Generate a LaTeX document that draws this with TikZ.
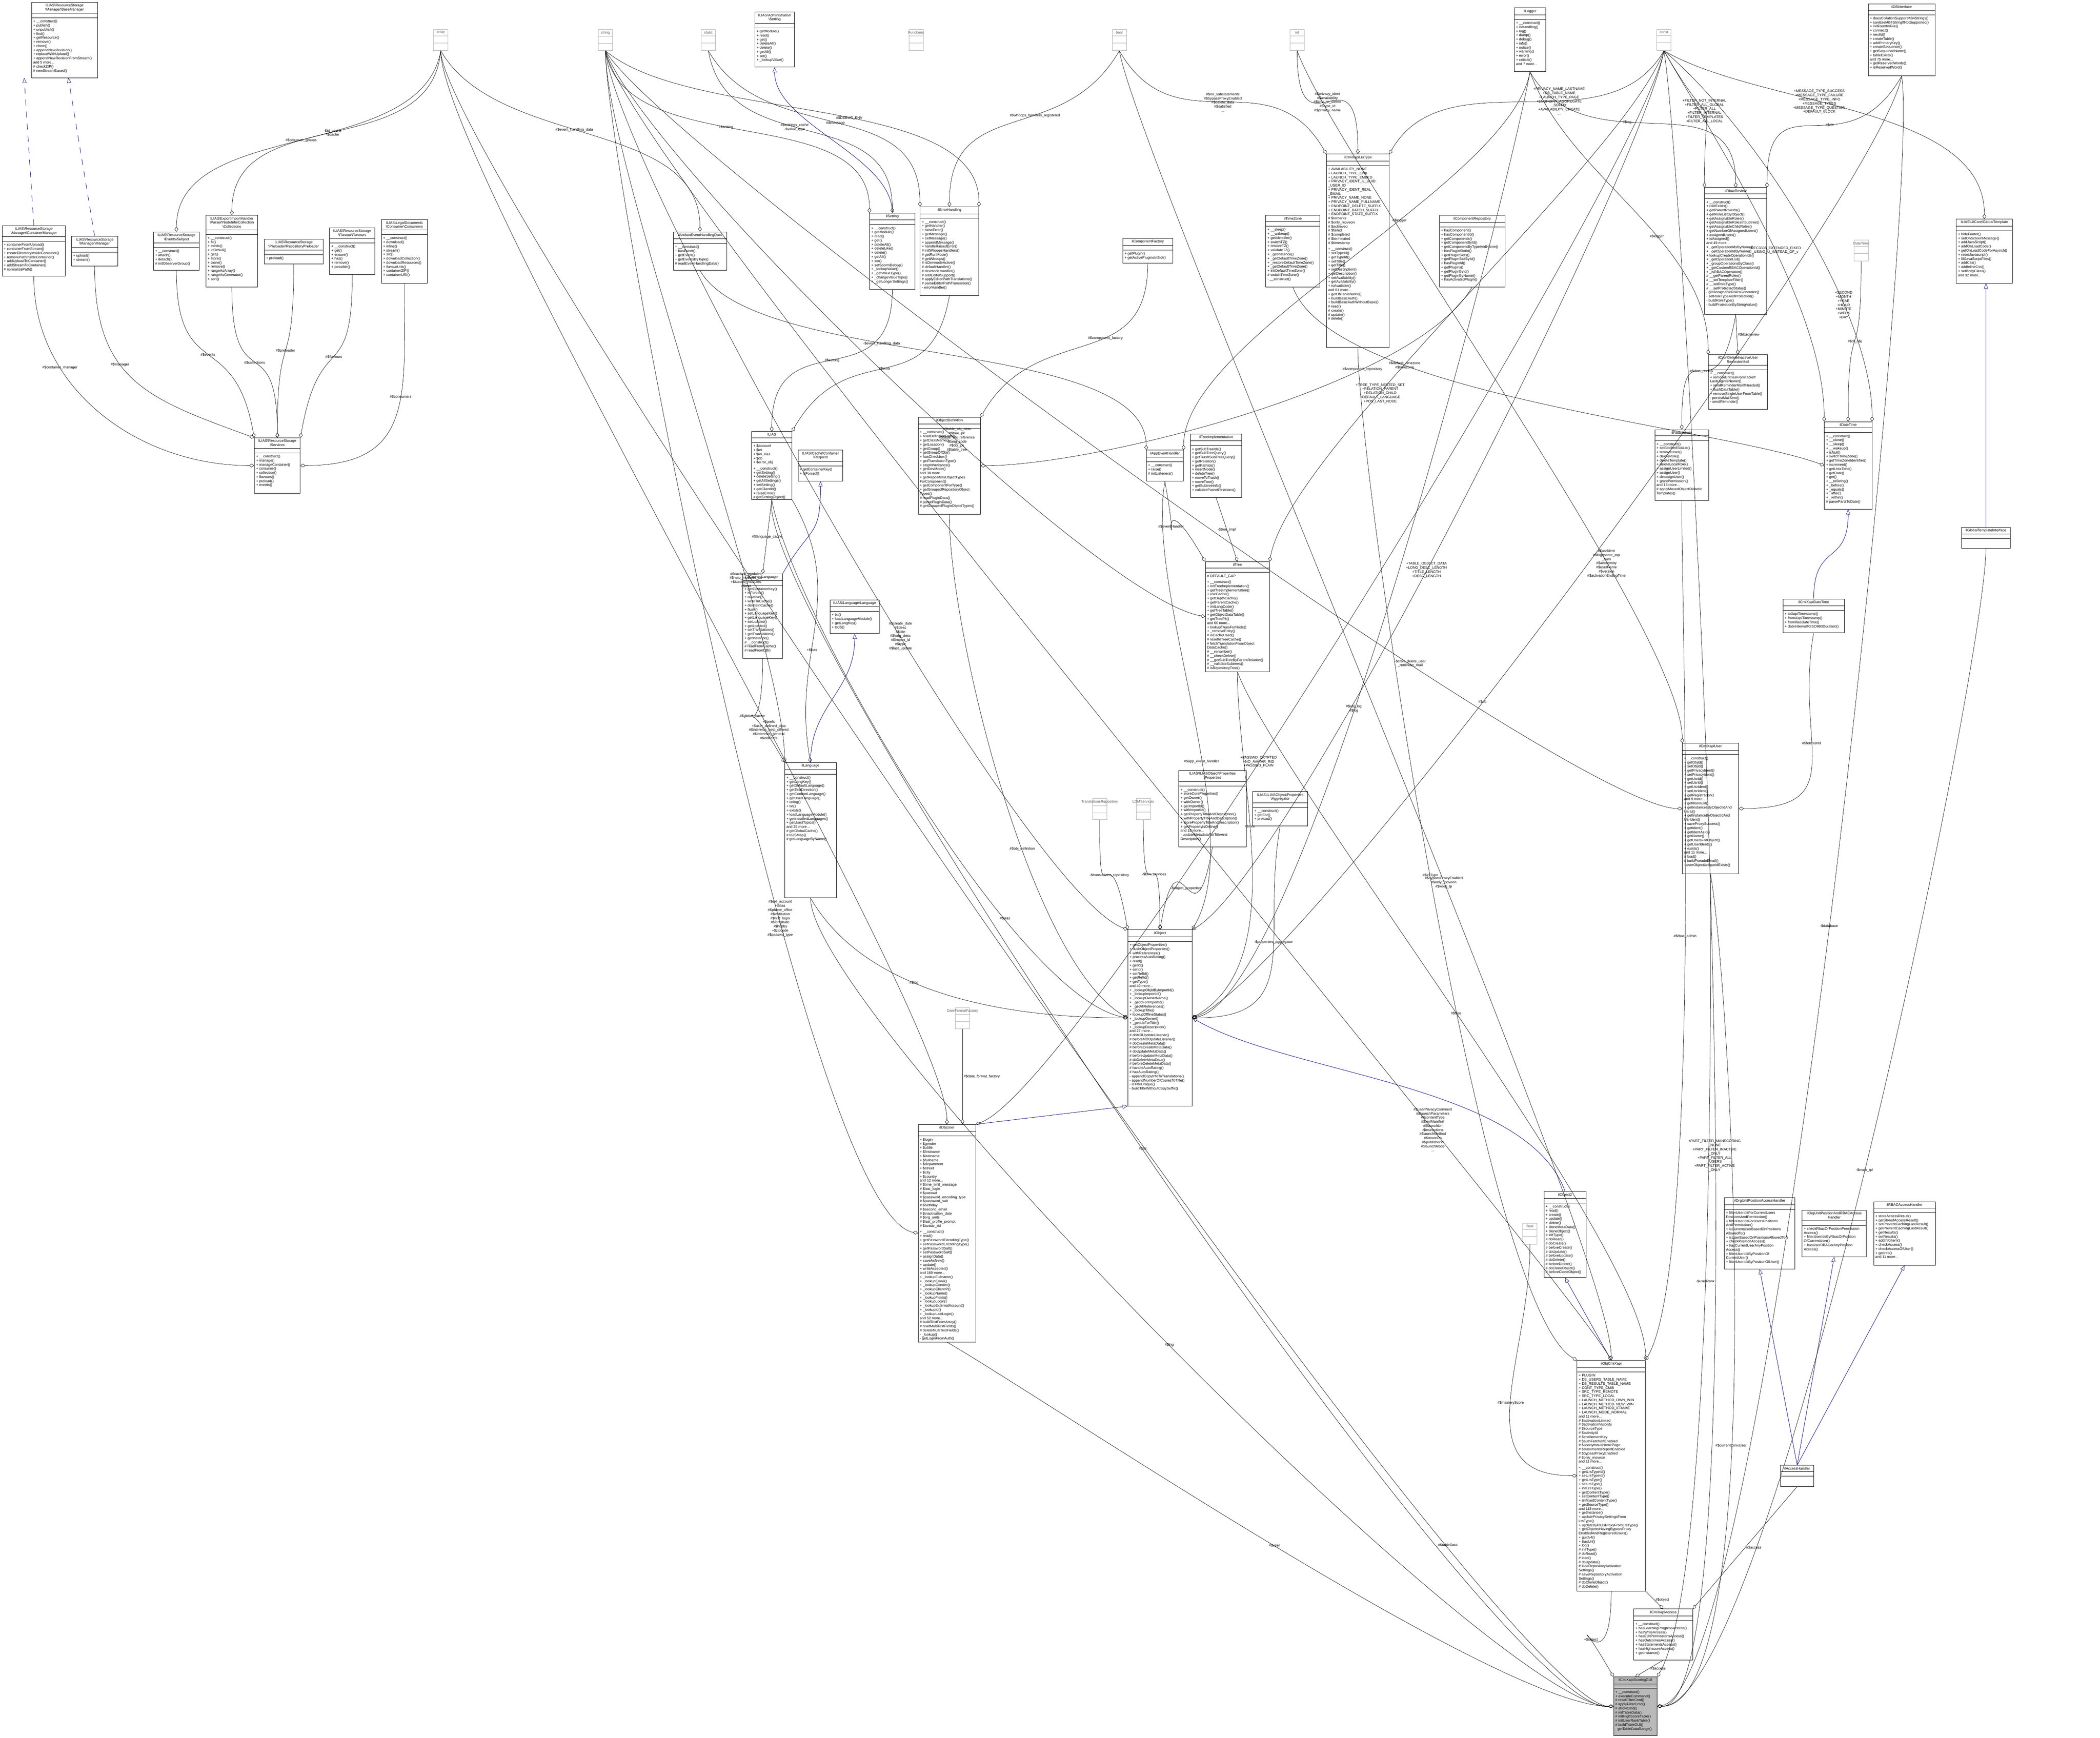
\documentclass[tikz,border=0pt]{standalone}
\usepackage{fontspec}
\setmainfont{Liberation Sans}
\usetikzlibrary{arrows.meta}
\newcommand{\bs}{\textbackslash}
\tikzset{
  umlbox/.style={draw=black, line width=0.18pt, anchor=north west, inner sep=0pt, fill=white},
  typebox/.style={umlbox, draw=gray!60},
  umltitle/.style={anchor=north, align=center, inner sep=0.75pt},
  umlbody/.style={anchor=north west, align=left, inner sep=0.75pt},
  agg/.style={line width=0.15pt, -{Diamond[open,length=2.5pt,width=1.8pt,line width=0.15pt]}},
  inh/.style={line width=0.18pt, draw=blue!50!black, -{Triangle[open,length=2.5pt,width=2pt,line width=0.15pt]}},
  inhd/.style={inh, dashed},
  lbl/.style={align=center, inner sep=0.5pt},
  every to/.append style={out distance=2cm, in distance=2cm},
}
% name, x1, y1, x2, y2 (pixels of the reference), title, members
\newcommand{\umlclass}[7]{%
  \node[umlbox, minimum width={(#4-#2)*0.005cm}, minimum height={(#5-#3)*0.005cm}] (#1) at ({#2*0.005-18.44},{15.26-#3*0.005}) {};
  \node[umltitle] (#1-t) at (#1.north) {#6};
  \draw[line width=0.18pt] (#1.west |- #1-t.south) -- (#1.east |- #1-t.south);
  \draw[line width=0.18pt] ([yshift=-0.08cm]#1.west |- #1-t.south) -- ([yshift=-0.08cm]#1.east |- #1-t.south);
  \node[umlbody] at ([yshift=-0.085cm]#1.west |- #1-t.south) {#7};
}
% name, x, y (pixels of the reference), title
\newcommand{\umltype}[4]{%
  \node[typebox, minimum width=0.25cm, minimum height=0.37cm] (#1) at ({#2*0.005-18.565},{15.26-#3*0.005}) {};
  \node[umltitle, text=gray!70!black] (#1-t) at (#1.north) {#4};
  \draw[gray!60, line width=0.18pt] (#1.west |- #1-t.south) -- (#1.east |- #1-t.south);
  \draw[gray!60, line width=0.18pt] ([yshift=-0.125cm]#1.west |- #1-t.south) -- ([yshift=-0.125cm]#1.east |- #1-t.south);
}
\begin{document}
\begin{tikzpicture}[font=\fontsize{1.8}{2.05}\selectfont]
\useasboundingbox[fill=white] (-18.44,15.26) rectangle (18.44,-15.26);

% basic types
\umltype{array}{1546}{103}{array}
\umltype{string}{2124}{103}{string}
\umltype{static}{2485}{103}{static}
\umltype{functions}{3214}{103}{Functions}
\umltype{bool}{3927}{103}{bool}
\umltype{int}{4551}{103}{int}
\umltype{const}{5838}{103}{const}
\umltype{datetime}{6530}{842}{DateTime}
\umltype{translrep}{3858}{2802}{TranslationsRepository}
\umltype{lom}{4011}{2802}{LOMServices}
\umltype{dff}{3377}{3535}{DateFormatFactory}
\umltype{float}{5368}{4291}{float}

% resource storage
\umlclass{basemgr}{110}{7}{342}{272}{ILIAS\bs ResourceStorage\\\bs Manager\bs BaseManager}{+ \_\_construct()\\+ publish()\\+ unpublish()\\+ find()\\+ getResource()\\+ remove()\\+ clone()\\+ appendNewRevision()\\+ replaceWithUpload()\\+ appendNewRevisionFromStream()\\and 5 more...\\\# checkZIP()\\\# newStreamBased()}
\umlclass{containermgr}{7}{791}{229}{969}{ILIAS\bs ResourceStorage\\\bs Manager\bs ContainerManager}{+ containerFromUpload()\\+ containerFromStream()\\+ createDirectoryInsideContainer()\\+ removePathInsideContainer()\\+ addUploadToContainer()\\+ addStreamToContainer()\\\# normalizePath()}
\umlclass{mgr}{250}{829}{413}{933}{ILIAS\bs ResourceStorage\\\bs Manager\bs Manager}{+ upload()\\+ stream()}
\umlclass{subject}{538}{813}{699}{948}{ILIAS\bs ResourceStorage\\\bs Events\bs Subject}{+ \_\_construct()\\+ attach()\\+ detach()\\\# initObserverGroup()}
\umlclass{collections}{722}{755}{904}{1007}{ILIAS\bs ExportImportHandler\\\bs Parser\bs NodeInfo\bs Collection\\\bs Collections}{+ \_\_construct()\\+ fit()\\+ exists()\\+ idOrNull()\\+ get()\\+ store()\\+ clone()\\+ remove()\\+ rangeAsArray()\\+ rangeAsGenerator()\\+ sort()}
\umlclass{preloader}{927}{838}{1133}{926}{ILIAS\bs ResourceStorage\\\bs Preloader\bs RepositoryPreloader}{+ preload()}
\umlclass{flavours}{1156}{799}{1315}{963}{ILIAS\bs ResourceStorage\\\bs Flavour\bs Flavours}{+ \_\_construct()\\+ get()\\+ ensure()\\+ has()\\+ remove()\\+ possible()}
\umlclass{consumers}{1338}{770}{1499}{993}{ILIAS\bs LegalDocuments\\\bs Consumer\bs Consumers}{+ \_\_construct()\\+ download()\\+ inline()\\+ stream()\\+ src()\\+ downloadCollection()\\+ downloadResources()\\+ flavourUrls()\\+ containerZIP()\\+ containerURI()}
\umlclass{services}{892}{1536}{1053}{1730}{ILIAS\bs ResourceStorage\\\bs Services}{+ \_\_construct()\\+ manage()\\+ manageContainer()\\+ consume()\\+ collection()\\+ flavours()\\+ preload()\\+ events()}

% settings, errors, logging
\umlclass{setting}{2648}{42}{2787}{235}{ILIAS\bs Administration\\\bs Setting}{+ getModule()\\+ read()\\+ get()\\+ deleteAll()\\+ delete()\\+ getAll()\\+ set()\\+ \_lookupValue()}
\umlclass{evdata}{2362}{813}{2549}{948}{ilArtifactEventHandlingData}{+ \_\_construct()\\+ hasEvent()\\+ getEvent()\\+ getEventsByType()\\\# readEventHandlingData()}
\umlclass{ilsetting}{3051}{747}{3210}{1015}{ilSetting}{+ \_\_construct()\\+ getModule()\\+ read()\\+ get()\\+ deleteAll()\\+ deleteLike()\\+ delete()\\+ getAll()\\+ set()\\+ setScormDebug()\\+ \_lookupValue()\\+ \_getValueType()\\+ \_changeValueType()\\+ \_getLongerSettings()}
\umlclass{errh}{3228}{725}{3434}{1036}{ilErrorHandling}{+ \_\_construct()\\+ getHandler()\\+ raiseError()\\+ getMessage()\\+ setMessage()\\+ appendMessage()\\+ handleRaisedError()\\\# initWhoopsHandlers()\\\# getRunMode()\\\# getWhoops()\\\# isDevmodeActive()\\\# defaultHandler()\\\# devmodeHandler()\\\# addEditorSupport()\\\# applyEditorPathTranslations()\\\# parseEditorPathTranslation()\\- errorHandler()}
\umlclass{logger}{5313}{27}{5423}{251}{ilLogger}{+ \_\_construct()\\+ isHandling()\\+ log()\\+ dump()\\+ debug()\\+ info()\\+ notice()\\+ warning()\\+ error()\\+ critical()\\and 7 more...}
\umlclass{dbi}{6555}{13}{6789}{266}{ilDBInterface}{+ doesCollationSupportMB4Strings()\\+ sanitizeMB4StringIfNotSupported()\\+ initFromIniFile()\\+ connect()\\+ nextId()\\+ createTable()\\+ addPrimaryKey()\\+ createSequence()\\+ getSequenceName()\\+ tableExists()\\and 75 more...\\+ getReservedWords()\\+ isReservedWord()}

% components, time
\umlclass{compfac}{3939}{836}{4115}{922}{ilComponentFactory}{+ getPlugin()\\+ getActivePluginsInSlot()}
\umlclass{timezone}{4441}{755}{4631}{1006}{ilTimeZone}{+ \_\_sleep()\\+ \_\_wakeup()\\+ getIdentifier()\\+ switchTZ()\\+ restoreTZ()\\+ validateTZ()\\+ \_getInstance()\\+ \_getDefaultTimeZone()\\+ \_restoreDefaultTimeZone()\\+ \_getDefaultTimeZone()\\+ initDefaultTimeZone()\\\# switchTimeZone()\\- \_\_construct()}
\umlclass{lrstype}{4654}{540}{4874}{1219}{ilCmiXapiLrsType}{+ AVAILABILITY\_NONE\\+ LAUNCH\_TYPE\_LINK\\+ LAUNCH\_TYPE\_EMBED\\+ PRIVACY\_IDENT\_IL\_UUID\\\_USER\_ID\\+ PRIVACY\_IDENT\_REAL\\\_EMAIL\\+ PRIVACY\_NAME\_NONE\\+ PRIVACY\_NAME\_FULLNAME\\+ ENDPOINT\_DELETE\_SUFFIX\\+ ENDPOINT\_BATCH\_SUFFIX\\+ ENDPOINT\_STATE\_SUFFIX\\\# \$remarks\\\# \$only\_moveon\\\# \$achieved\\\# \$failed\\\# \$completed\\\# \$terminated\\\# \$timestamp\\[1pt]+ \_\_construct()\\+ setTypeId()\\+ getTypeId()\\+ setTitle()\\+ getTitle()\\+ setDescription()\\+ getDescription()\\+ setAvailability()\\+ getAvailability()\\+ isAvailable()\\and 61 more...\\+ getDbTableName()\\+ buildBasicAuth()\\+ buildBasicAuthWithoutBasic()\\\# read()\\\# create()\\\# update()\\\# delete()}
\umlclass{comprep}{5050}{755}{5280}{1006}{ilComponentRepository}{+ hasComponent()\\+ hasComponentId()\\+ getComponents()\\+ getComponentById()\\+ getComponentByTypeAndName()\\+ hasPluginSlotId()\\+ getPluginSlots()\\+ getPluginSlotById()\\+ hasPluginId()\\+ getPlugins()\\+ getPluginById()\\+ getPluginByName()\\+ hasActivatedPlugin()}
\umlclass{rbacreview}{5981}{658}{6199}{1103}{ilRbacReview}{+ \_\_construct()\\+ roleExists()\\+ getParentRoleIds()\\+ getRoleListByObject()\\+ getAssignableRoles()\\+ getAssignableRolesInSubtree()\\+ getAssignableChildRoles()\\+ getNumberOfAssignedUsers()\\+ assignedUsers()\\+ isAssigned()\\and 49 more...\\+ \_getOperationIdsByName()\\+ \_getOperationIdByName()\\+ lookupCreateOperationIds()\\+ \_getOperationList()\\+ \_groupOperationsByClass()\\+ \_getCustomRBACOperationId()\\+ \_isRBACOperation()\\\# \_\_getParentRoles()\\\# \_\_setTemplateFilter()\\\# \_\_setRoleType()\\\# \_\_setProtectedStatus()\\- getAssignableRolesGenerator()\\- setRoleTypeAndProtection()\\- buildRoleType()\\- buildProtectionByStringValue()}
\umlclass{gtpl}{6864}{768}{7061}{993}{ILIAS\bs UICore\bs GlobalTemplate}{+ hideFooter()\\+ setOnScreenMessage()\\+ addJavaScript()\\+ addOnLoadCode()\\+ getOnLoadCodeForAsynch()\\+ resetJavascript()\\+ fillJavaScriptFiles()\\+ addCss()\\+ addInlineCss()\\+ setBodyClass()\\and 32 more...}
\umlclass{crondel}{5994}{1244}{6201}{1435}{ilCronDeleteInactiveUser\\ReminderMail}{+ \_\_construct()\\+ removeEntriesFromTableIf\\LastLoginIsNewer()\\+ sendReminderMailIfNeeded()\\+ flushDataTable()\\+ removeSingleUserFromTable()\\- persistMailSent()\\- sendReminder()}

% core
\umlclass{ilias}{2637}{1514}{2778}{1752}{ILIAS}{+ \$account\\+ \$ini\\+ \$ini\_ilias\\+ \$db\\+ \$error\_obj\\[1pt]+ \_\_construct()\\+ getSetting()\\+ deleteSetting()\\+ getAllSettings()\\+ setSetting()\\+ getClientId()\\+ raiseError()\\\# getSettingObject()}
\umlclass{cachereq}{2800}{1579}{2957}{1688}{ILIAS\bs Cache\bs Container\\\bs Request}{+ getContainerKey()\\+ isForced()}
\umlclass{objdef}{3221}{1463}{3440}{1804}{ilObjectDefinition}{+ \_\_construct()\\+ readDefinitionData()\\+ getClassName()\\+ getLocation()\\+ getGroup()\\+ getGroupOfObj()\\+ hasCheckbox()\\+ getTranslationType()\\+ stopInheritance()\\+ getDevMode()\\and 38 more...\\+ getRepositoryObjectTypes\\ForComponent()\\+ getComponentForType()\\+ getGroupedRepositoryObject\\Types()\\\# readPluginData()\\\# parsePluginData()\\\# getGroupedPluginObjectTypes()}
\umlclass{appev}{4022}{1579}{4152}{1688}{ilAppEventHandler}{+ \_\_construct()\\+ raise()\\\# initListeners()}
\umlclass{treeimpl}{4176}{1522}{4357}{1745}{ilTreeImplementation}{+ getSubTreeIds()\\+ getSubTreeQuery()\\+ getTrashSubTreeQuery()\\+ getRelation()\\+ getPathIds()\\+ insertNode()\\+ deleteTree()\\+ moveToTrash()\\+ moveTree()\\+ getSubtreeInfo()\\+ validateParentRelations()}
\umlclass{tree}{4229}{1970}{4454}{2356}{ilTree}{\# DEFAULT\_GAP\\[1pt]+ \_\_construct()\\+ initTreeImplementation()\\+ getTreeImplementation()\\+ useCache()\\+ getDepthCache()\\+ getParentCache()\\+ initLangCode()\\+ getTreeTable()\\+ getObjectDataTable()\\+ getTreePk()\\and 60 more...\\+ lookupTreesForNode()\\+ \_removeEntry()\\\# isCacheUsed()\\\# resetInTreeCache()\\\# fetchTranslationFromObject\\DataCache()\\\# \_\_renumber()\\\# \_\_checkDelete()\\\# \_\_getSubTreeByParentRelation()\\\# \_\_validateSubtrees()\\\# isRepositoryTree()}
\umlclass{cachedlng}{2606}{2013}{2745}{2310}{ilCachedLanguage}{+ getContainerKey()\\+ isForced()\\+ isActive()\\+ writeToCache()\\+ deleteInCache()\\+ flush()\\+ setLanguageKey()\\+ getLanguageKey()\\+ setLoaded()\\+ getLoaded()\\+ setTranslations()\\+ getTranslations()\\+ getInstance()\\\# \_\_construct()\\\# readFromCache()\\\# readFromDB()}
\umlclass{langif}{2912}{2104}{3085}{2223}{ILIAS\bs Language\bs Language}{+ txt()\\+ loadLanguageModule()\\+ getLangKey()\\+ toJS()}
\umlclass{lng}{2753}{2675}{2934}{3150}{ilLanguage}{+ \_\_construct()\\+ getLangKey()\\+ getDefaultLanguage()\\+ getTextDirection()\\+ getContentLanguage()\\+ getUserLanguage()\\+ txtlng()\\+ txt()\\+ exists()\\+ loadLanguageModule()\\+ getInstalledLanguages()\\+ getUsedTopics()\\and 25 more...\\\# getGlobalCache()\\\# toJSMap()\\\# getLanguageByName()}
\umlclass{props}{4136}{2703}{4372}{2971}{ILIAS\bs ILIASObject\bs Properties\\\bs Properties}{+ \_\_construct()\\+ storeCoreProperties()\\+ getOwner()\\+ withOwner()\\+ getImportId()\\+ withImportId()\\+ getPropertyTitleAndDescription()\\+ withPropertyTitleAndDescription()\\+ storePropertyTitleAndDescription()\\+ getPropertyIsOnline()\\and 18 more...\\- updateMetadataForTitleAnd\\Description()}
\umlclass{aggr}{4395}{2777}{4588}{2897}{ILIAS\bs ILIASObject\bs Properties\\\bs Aggregator}{+ \_\_construct()\\+ getFor()\\+ preload()}
\umlclass{obj}{3957}{3262}{4182}{3880}{ilObject}{+ getObjectProperties()\\+ flushObjectProperties()\\+ withReferences()\\+ processAutoRating()\\+ read()\\+ getId()\\+ setId()\\+ setRefId()\\+ getRefId()\\+ getType()\\and 40 more...\\+ \_lookupObjIdByImportId()\\+ \_lookupImportId()\\+ \_lookupOwnerName()\\+ \_getIdForImportId()\\+ \_getAllReferences()\\+ \_lookupTitle()\\+ lookupOfflineStatus()\\+ \_lookupOwner()\\+ \_getIdsForTitle()\\+ \_lookupDescription()\\and 27 more...\\\# doMDUpdateListener()\\\# beforeMDUpdateListener()\\\# doCreateMetaData()\\\# beforeCreateMetaData()\\\# doUpdateMetaData()\\\# beforeUpdateMetaData()\\\# doDeleteMetaData()\\\# beforeDeleteMetaData()\\\# handleAutoRating()\\\# hasAutoRating()\\- appendCopyInfoToTranslations()\\- appendNumberOfCopiesToTitle()\\- isTitleUnique()\\- buildTitleWithoutCopySuffix()}
\umlclass{objuser}{3221}{3945}{3423}{4708}{ilObjUser}{+ \$login\\+ \$gender\\+ \$utitle\\+ \$firstname\\+ \$lastname\\+ \$fullname\\+ \$department\\+ \$street\\+ \$city\\+ \$country\\and 12 more...\\\# \$time\_limit\_message\\\# \$last\_login\\\# \$passwd\\\# \$password\_encoding\_type\\\# \$password\_salt\\\# \$birthday\\\# \$second\_email\\\# \$inactivation\_date\\\# \$org\_units\\\# \$last\_profile\_prompt\\\# \$avatar\_rid\\[1pt]+ \_\_construct()\\+ read()\\+ getPasswordEncodingType()\\+ setPasswordEncodingType()\\+ getPasswordSalt()\\+ setPasswordSalt()\\+ assignData()\\+ saveAsNew()\\+ update()\\+ writeAccepted()\\and 169 more...\\+ \_lookupFullname()\\+ \_lookupEmail()\\+ \_lookupGender()\\+ \_lookupClientIP()\\+ \_lookupName()\\+ \_lookupFields()\\+ \_lookupLogin()\\+ \_lookupExternalAccount()\\+ \_lookupId()\\+ \_lookupLastLogin()\\and 52 more...\\\# buildTextFromArray()\\\# readMultiTextFields()\\\# deleteMultiTextFields()\\- \_lookup()\\- getLoginFromAuth()}

% cmi5 / xapi
\umlclass{rbacadmin}{5806}{1507}{5995}{1755}{ilRbacAdmin}{+ \_\_construct()\\+ setBlockedStatus()\\+ removeUser()\\+ deleteRole()\\+ deleteTemplate()\\+ deleteLocalRole()\\+ assignUserLimited()\\+ assignUser()\\+ deassignUser()\\+ grantPermission()\\and 18 more...\\\# applyMovedObjectDidactic\\Templates()}
\umlclass{ildt}{6401}{1479}{6568}{1786}{ilDateTime}{+ \_\_construct()\\+ \_\_clone()\\+ \_\_sleep()\\+ \_\_wakeup()\\+ isNull()\\+ switchTimeZone()\\+ getTimeZoneIdentifier()\\+ increment()\\+ getUnixTime()\\+ getDate()\\+ get()\\+ \_\_toString()\\+ \_before()\\+ \_equals()\\+ \_after()\\+ \_within()\\\# parsePartsToDate()}
\umlclass{gtplif}{6883}{1849}{7053}{1923}{ilGlobalTemplateInterface}{}
\umlclass{xdt}{6256}{2101}{6471}{2219}{ilCmiXapiDateTime}{+ toXapiTimestamp()\\+ fromXapiTimestamp()\\+ fromIliasDateTime()\\+ dateIntervalToISO860Duration()}
\umlclass{xuser}{5903}{2607}{6100}{3066}{ilCmiXapiUser}{+ \_\_construct()\\+ getObjId()\\+ setObjId()\\+ getPrivacyIdent()\\+ setPrivacyIdent()\\+ getUsrId()\\+ setUsrId()\\+ getUsrIdent()\\+ setUsrIdent()\\+ getRegistration()\\and 9 more...\\+ getIliasUuid()\\+ getInstancesByObjectIdAnd\\UsrId()\\+ getInstanceByObjectIdAnd\\UsrIdent()\\+ saveProxySuccess()\\+ getIdent()\\+ getIdentAsId()\\+ getName()\\+ getUsersForObject()\\+ getUserIdents()\\+ exists()\\and 11 more...\\\# load()\\\# buildPseudoEmail()\\- userObjectUniqueIdExists()}
\umlclass{obj2}{5417}{4180}{5565}{4482}{ilObject2}{+ \_\_construct()\\+ read()\\+ create()\\+ update()\\+ delete()\\+ cloneMetaData()\\+ cloneObject()\\\# initType()\\\# doRead()\\\# doCreate()\\\# beforeCreate()\\\# doUpdate()\\\# beforeUpdate()\\\# doDelete()\\\# beforeDelete()\\\# doCloneObject()\\\# beforeCloneObject()}
\umlclass{ouah}{6050}{4202}{6298}{4452}{ilOrgUnitPositionAccessHandler}{+ filterUserIdsForCurrentUsers\\PositionsAndPermission()\\+ filterUserIdsForUsersPositions\\AndPermission()\\+ isCurrentUserBasedOnPositions\\AllowedTo()\\+ isUserBasedOnPositionsAllowedTo()\\+ checkPositionAccess()\\+ hasCurrentUserAnyPosition\\Access()\\+ filterUserIdsByPositionOf\\CurrentUser()\\+ filterUserIdsByPositionOfUser()}
\umlclass{ourbac}{6323}{4246}{6548}{4409}{ilOrgUnitPositionAndRBACAccess\\Handler}{+ checkRbacOrPositionPermission\\Access()\\+ filterUserIdsByRbacOrPosition\\OfCurrentUser()\\+ hasUserRBACorAnyPosition\\Access()}
\umlclass{rbacah}{6574}{4216}{6791}{4439}{ilRBACAccessHandler}{+ storeAccessResult()\\+ getStoredAccessResult()\\+ setPreventCachingLastResult()\\+ getPreventCachingLastResult()\\+ getResults()\\+ setResults()\\+ addInfoItem()\\+ checkAccess()\\+ checkAccessOfUser()\\+ getInfo()\\and 11 more...}
\umlclass{objx}{5533}{4773}{5773}{5582}{ilObjCmiXapi}{+ PLUGIN\\+ DB\_USERS\_TABLE\_NAME\\+ DB\_RESULTS\_TABLE\_NAME\\+ CONT\_TYPE\_CMI5\\+ SRC\_TYPE\_REMOTE\\+ SRC\_TYPE\_LOCAL\\+ LAUNCH\_METHOD\_OWN\_WIN\\+ LAUNCH\_METHOD\_NEW\_WIN\\+ LAUNCH\_METHOD\_IFRAME\\+ LAUNCH\_MODE\_NORMAL\\and 11 more...\\\# \$activationLimited\\\# \$activationVisibility\\\# \$sourceType\\\# \$activityId\\\# \$entitlementKey\\\# \$authFetchUrlEnabled\\\# \$anonymousHomePage\\\# \$statementsReportEnabled\\\# \$bypassProxyEnabled\\\# \$only\_moveon\\and 11 more...\\[1pt]+ \_\_construct()\\+ getLrsTypeId()\\+ setLrsTypeId()\\+ getLrsType()\\+ setLrsType()\\+ initLrsType()\\+ getContentType()\\+ setContentType()\\+ isMixedContentType()\\+ getSourceType()\\and 118 more...\\+ getInstance()\\+ updatePrivacySettingsFrom\\LrsType()\\+ updateByPassProxyFromLrsType()\\+ getObjectsHavingBypassProxy\\EnabledAndRegisteredUsers()\\+ guidv4()\\+ iliasUrl()\\+ log()\\\# initType()\\\# doRead()\\\# load()\\\# doUpdate()\\\# loadRepositoryActivation\\Settings()\\\# saveRepositoryActivation\\Settings()\\\# doCloneObject()\\\# doDelete()}
\umlclass{ah}{6247}{5141}{6364}{5215}{ilAccessHandler}{}
\umlclass{xacc}{5732}{5645}{5939}{5824}{ilCmiXapiAccess}{+ \_\_construct()\\+ hasLearningProgressAccess()\\+ hasWriteAccess()\\+ hasEditPermissionsAccess()\\+ hasOutcomesAccess()\\+ hasStatementsAccess()\\+ hasHighscoreAccess()\\+ getInstance()}
\node[umlbox, fill=gray!55, minimum width=0.765cm, minimum height=1.035cm] (gui) at (9.895,-14.185) {};
\node[umltitle] (gui-t) at (gui.north) {ilCmiXapiScoringGUI};
\draw[line width=0.18pt] (gui.west |- gui-t.south) -- (gui.east |- gui-t.south);
\draw[line width=0.18pt] ([yshift=-0.08cm]gui.west |- gui-t.south) -- ([yshift=-0.08cm]gui.east |- gui-t.south);
\node[umlbody] at ([yshift=-0.085cm]gui.west |- gui-t.south) {+ \_\_construct()\\+ executeCommand()\\\# resetFilterCmd()\\\# applyFilterCmd()\\\# showCmd()\\\# initTableData()\\\# initHighScoreTable()\\\# initUserRankTable()\\\# buildTableGUI()\\- getTableDataRange()};

% inheritance
\draw[inhd] (containermgr.north) -- (basemgr.south -| -18.015,0);
\draw[inhd] (mgr.north) -- (basemgr.south -| -17.24,0);
\draw[inh] (ilsetting.north) to[out=90,in=-90, out distance=1cm, in distance=1cm] (setting.south);
\draw[inh] (cachedlng.north east) to[out=60,in=-90, out distance=1cm, in distance=1cm] (cachereq.south);
\draw[inh] (lng.north) to[out=90,in=-90, out distance=1cm, in distance=1cm] (langif.south);
\draw[inh] (gtplif.north) -- (gtplif.north |- gtpl.south);
\draw[inh] (xdt.north) to[out=90,in=-90, out distance=1cm, in distance=1cm] (ildt.south);
\draw[inh] (objx.north) -- (obj2.south);
\draw[inh] (obj2.north) to[out=110,in=-30] (obj.east);
\draw[inh] (objuser.north east) -- (obj.south west);
\draw[inh] (ah.north) -- (ouah.south);
\draw[inh] (ah.north) -- (ourbac.south);
\draw[inh] (ah.north) -- (rbacah.south);

% resource storage aggregation
\draw[agg] (containermgr.south) to[out=-90,in=180] node[lbl, pos=0.3]{\#\$container\_manager} (services.west);
\draw[agg] (mgr.south) to[out=-90,in=160] node[lbl, pos=0.4]{\#\$manager} (services.north west);
\draw[agg] (subject.south) to[out=-90,in=100] node[lbl, pos=0.5]{\#\$events} (services.north west);
\draw[agg] (collections.south) to[out=-90,in=90] node[lbl, pos=0.5]{\#\$collections} (services.north);
\draw[agg] (preloader.south) to[out=-90,in=90] node[lbl, pos=0.5]{\#\$preloader} (services.north);
\draw[agg] (flavours.south) to[out=-90,in=80] node[lbl, pos=0.5]{\#\$flavours} (services.north east);
\draw[agg] (consumers.south) to[out=-90,in=0] node[lbl, pos=0.4]{\#\$consumers} (services.east);
\draw[agg] (array.south) to[out=-100,in=90] node[lbl, pos=0.5]{\#\$observer\_groups} (subject.north);
\draw[agg] (array.south) to[out=-95,in=90] node[lbl, pos=0.5]{-\$id\_cache\\-\$cache} (collections.north);
\draw[agg] (array.south) to[out=-60,in=90] node[lbl, pos=0.45]{\#\$event\_handling\_data} (evdata.north);
\draw[agg] (string.south) to[out=-80,in=90] node[lbl, pos=0.45]{+\$setting} (ilsetting.north west);
\draw[agg] (static.south) to[out=-80,in=90] node[lbl, pos=0.45]{\#\$settings\_cache\\-\$value\_type} (ilsetting.north);
\draw[agg] (static.south) to[out=-60,in=90] node[lbl, pos=0.5]{\#\$message} (errh.north west);
\draw[agg] (bool.south) to[out=-120,in=90] node[lbl, pos=0.4]{\#\$whoops\_handlers\_registered} (errh.north);
\draw[agg] (string.south) to[out=-40,in=90] node[lbl, pos=0.55]{\#\$DEBUG\_ENV} (errh.north east);
\draw[agg] (array.south) to[out=-90,in=90] node[lbl, pos=0.6]{+\$prefs\\+\$user\_defined\_data\\\#\$interests\_help\_offered\\\#\$interests\_general\\\#\$oldPrefs} (objuser.north);

% core aggregation
\draw[agg] (ilsetting.south) to[out=-90,in=90] node[lbl, pos=0.5]{\#\$setting} (ilias.north);
\draw[agg] (errh.south) to[out=-100,in=60] node[lbl, pos=0.5]{\#\$error} (ilias.north east);
\draw[agg] (ilias.south) -- node[lbl]{\#\$language\_cache} (cachedlng.north);
\draw[agg] (cachedlng.south) to[out=-90,in=120] node[lbl, pos=0.5]{\#\$global\_cache} (lng.north west);
\draw[agg] (ilias.south east) to[out=-60,in=100] node[lbl, pos=0.6]{+\$ilias} (lng.north);
\draw[agg] (string.south) to[out=-90,in=90] node[lbl, pos=0.7]{\#\$cached\_modules\\\#\$map\_modules\_txt\\+\$loaded\_modules\\+\$text} (lng.north west);
\draw[agg] (compfac.south) to[out=-90,in=60] node[lbl, pos=0.4]{\#\$component\_factory} (objdef.north east);
\draw[agg] (comprep.south) to[out=-120,in=0] node[lbl, pos=0.3]{\#\$component\_repository} (objdef.east);
\draw[agg] (evdata.south) to[out=-60,in=90] node[lbl, pos=0.4]{-\$event\_handling\_data} (appev.north west);
\draw[agg] (logger.south) to[out=-100,in=90] node[lbl, pos=0.4]{\#\$logger} (appev.north east);
\draw[agg] (treeimpl.south) -- node[lbl]{-\$tree\_impl} (tree.north);
\draw[agg] (appev.south) to[out=-80,in=120] node[lbl, pos=0.5]{\#\$eventHandler} (tree.north west);
\draw[agg] (string.south) to[out=-70,in=170] node[lbl, pos=0.6]{\#\$table\_obj\_data\\\#\$tree\_pk\\\#\$table\_obj\_reference\\-\$lang\_code\\\#\$obj\_pk\\\#\$table\_tree} (tree.west);
\draw[agg] (const.south) to[out=-110,in=80] node[lbl, pos=0.65]{+TREE\_TYPE\_NESTED\_SET\\+RELATION\_PARENT\\+RELATION\_CHILD\\+DEFAULT\_LANGUAGE\\+POS\_LAST\_NODE} (tree.north east);
\draw[agg] (objdef.south) to[out=-90,in=150] node[lbl, pos=0.6]{\#\$obj\_definition} (obj.west);
\draw[agg] (appev.south) to[out=-100,in=60] node[lbl, pos=0.6]{\#\$app\_event\_handler} (obj.north east);
\draw[agg] (lng.south) to[out=-60,in=180] node[lbl, pos=0.4]{\#\$lng} (obj.west);
\draw[agg] (ilias.south) to[out=-80,in=170] node[lbl, pos=0.7]{\#\$ilias} (obj.west);
\draw[agg] (translrep.south) to[out=-90,in=100] node[lbl, pos=0.6]{-\$translations\_repository} (obj.north west);
\draw[agg] (lom.south) to[out=-90,in=90] node[lbl, pos=0.6]{-\$lom\_services} (obj.north);
\draw[agg] (props.south) to[out=-100,in=80] node[lbl, pos=0.5]{-\$object\_properties} (obj.north);
\draw[agg] (aggr.south) to[out=-100,in=0] node[lbl, pos=0.4]{-\$properties\_aggregator} (obj.east);
\draw[agg] (tree.south) to[out=-90,in=30] node[lbl, pos=0.4]{\#\$tree} (obj.east);
\draw[agg] (dbi.south) to[out=-100,in=20] node[lbl, pos=0.6]{\#\$db} (obj.east);
\draw[agg] (logger.south) to[out=-100,in=10] node[lbl, pos=0.6]{\#\$obj\_log\\\#\$log} (obj.east);
\draw[agg] (const.south) to[out=-100,in=30] node[lbl, pos=0.55]{+TABLE\_OBJECT\_DATA\\+LONG\_DESC\_LENGTH\\+TITLE\_LENGTH\\+DESC\_LENGTH} (obj.north east);
\draw[agg] (string.south) to[out=-85,in=160] node[lbl, pos=0.6]{\#\$create\_date\\\#\$desc\\\#\$title\\\#\$long\_desc\\\#\$import\_id\\\#\$type\\\#\$last\_update} (obj.north west);
\draw[agg] (dff.south) -- node[lbl, right]{\#\$date\_format\_factory} (dff.south |- objuser.north);
\draw[agg] (const.south) to[out=-100,in=20] node[lbl, pos=0.6]{+PASSWD\_CRYPTED\\+NO\_AVATAR\_RID\\+PASSWD\_PLAIN} (objuser.north east);
\draw[agg] (string.south) to[out=-90,in=170] node[lbl, pos=0.65]{\#\$ext\_account\\+\$ilias\\\#\$phone\_office\\\#\$institution\\\#\$first\_login\\\#\$longitude\\+\$hobby\\+\$zipcode\\\#\$passwd\_type} (objuser.west);

% time, rbac, cmi5
\draw[agg] (timezone.south) to[out=-70,in=160] node[lbl, pos=0.3]{\#\$default\_timezone\\\#\$timezone} (ildt.west);
\draw[agg] (datetime.south) to[out=-90,in=90] node[lbl, pos=0.5]{\#\$dt\_obj} (ildt.north);
\draw[agg] (const.south) to[out=-60,in=90] node[lbl, pos=0.55]{+RFC3336\_EXTENDED\_FIXED\\\_USING\_U\_INSTEAD\_OF\_v} (ildt.north west);
\draw[agg] (const.south) to[out=-40,in=90] node[lbl, pos=0.7]{+SECOND\\+MONTH\\+YEAR\\+HOUR\\+MINUTE\\+WEEK\\+DAY} (ildt.north east);
\draw[agg] (logger.south) to[out=-70,in=90] node[lbl, pos=0.6]{\#\$logger} (crondel.north west);
\draw[agg] (rbacreview.south) -- node[lbl, right]{\#\$rbacreview} (crondel.north);
\draw[agg] (dbi.south) to[out=-120,in=90] node[lbl, pos=0.4]{\#\$db} (rbacreview.north east);
\draw[agg] (logger.south) to[out=-60,in=90] node[lbl, pos=0.4]{\#\$log} (rbacreview.north);
\draw[agg] (const.south) to[out=-60,in=90] node[lbl, pos=0.45]{+FILTER\_NOT\_INTERNAL\\+FILTER\_ALL\_GLOBAL\\+FILTER\_ALL\\+FILTER\_INTERNAL\\+FILTER\_TEMPLATES\\+FILTER\_ALL\_LOCAL} (rbacreview.north west);
\draw[agg] (const.south) to[out=-30,in=90] node[lbl, pos=0.4]{+MESSAGE\_TYPE\_SUCCESS\\+MESSAGE\_TYPE\_FAILURE\\+MESSAGE\_TYPE\_INFO\\+MESSAGE\_TYPES\\+MESSAGE\_TYPE\_QUESTION\\+DEFAULT\_BLOCK} (gtpl.north);
\draw[agg] (const.south) to[out=-120,in=60] node[lbl, pos=0.4]{+PRIVACY\_NAME\_LASTNAME\\+DB\_TABLE\_NAME\\+LAUNCH\_TYPE\_PAGE\\+ENDPOINT\_AGGREGATE\\\_SUFFIX\\+AVAILABILITY\_CREATE\\...} (lrstype.north east);
\draw[agg] (int.south) to[out=-90,in=90] node[lbl, pos=0.5]{\#\$privacy\_ident\\\#\$availability\\\#\$time\_to\_delete\\\#\$type\_id\\\#\$privacy\_name} (lrstype.north);
\draw[agg] (bool.south) to[out=-60,in=120] node[lbl, pos=0.5]{\#\$no\_substatements\\\#\$bypassProxyEnabled\\\#\$delete\_data\\\#\$satisfied\\...} (lrstype.north west);
\draw[agg] (rbacreview.south) to[out=-100,in=90] node[lbl, pos=0.5]{\#\$rbac\_review} (rbacadmin.north);
\draw[agg] (xdt.south) to[out=-100,in=0] node[lbl, pos=0.4]{\#\$fetchUntil} (xuser.east);
\draw[agg] (int.south) to[out=-70,in=90] node[lbl, pos=0.7]{\#\$usrIdent\\\#\$highscore\_top\\\_num\\\#\$anonymity\\\#\$userName\\\#\$version\\\#\$activationEndingTime} (xuser.north west);
\draw[agg] (string.south) to[out=-60,in=180] node[lbl, pos=0.7]{-\$cron\_delete\_user\\\_reminder\_mail} (xuser.west);
\draw[agg] (lrstype.south) to[out=-90,in=150] node[lbl, pos=0.5]{\#\$lrsType} (objx.north west);
\draw[agg] (float.south) to[out=-90,in=180] node[lbl, pos=0.5]{\#\$masteryScore} (objx.west);
\draw[agg] (string.south) to[out=-80,in=120] node[lbl, pos=0.75]{\#\$userPrivacyComment\\\#\$launchParameters\\\#\$contentType\\\#\$xmlManifest\\\#\$launchUrl\\-\$instructions\\\#\$launchMethod\\\#\$moveOn\\\#\$publisherId\\\#\$launchMode\\...} (objx.north);
\draw[agg] (bool.south) to[out=-80,in=90] node[lbl, pos=0.6]{\#\$bypassProxyEnabled\\\#\$only\_moveon\\\#\$keep\_lp} (objx.north);
\draw[agg] (tree.south) to[out=-70,in=90] node[lbl, pos=0.5]{\#\$tree} (objx.north east);
\draw[agg] (rbacadmin.south) to[out=-90,in=60] node[lbl, pos=0.5]{\#\$rbac\_admin} (objx.north east);
\draw[agg] (objx.south east) -- node[lbl, right]{\#\$object} (xacc.north);
\draw[agg] (ah.south) -- node[lbl, right]{\#\$access} (xacc.north east);
\draw[agg] (objx.south) to[out=-90,in=120] node[lbl, pos=0.5]{+\$object} (gui.north west);
\draw[agg] (xacc.south) -- node[lbl, right]{\#\$access} (gui.north);
\draw[agg] (xuser.south) to[out=-90,in=60] node[lbl, pos=0.5]{-\$userRank} (gui.north east);
\draw[agg] (xuser.south) to[out=-80,in=0] node[lbl, pos=0.6]{\#\$currentCmixUser} (gui.east);
\draw[agg] (gtplif.south) to[out=-90,in=0] node[lbl, pos=0.5]{-\$main\_tpl} (gui.east);
\draw[agg] (dbi.south) to[out=-80,in=10] node[lbl, pos=0.5]{-\$database} (gui.east);
\draw[agg] (const.south) to[out=-80,in=0] node[lbl, pos=0.6]{+PART\_FILTER\_MANSCORING\\\_NONE\\+PART\_FILTER\_INACTIVE\\\_ONLY\\+PART\_FILTER\_ALL\\\_USERS\\+PART\_FILTER\_ACTIVE\\\_ONLY} (gui.east);
\draw[agg] (lng.south) to[out=-90,in=180] node[lbl, pos=0.5]{\#\$lng} (gui.west);
\draw[agg] (objuser.south) to[out=-30,in=180] node[lbl, pos=0.5]{\#\$user} (gui.west);
\draw[agg] (ilias.south) to[out=-100,in=185] node[lbl, pos=0.5]{\#\$tpl} (gui.west);
\draw[agg] (array.south) to[out=-90,in=180] node[lbl, pos=0.8]{\#\$tableData} (gui.west);
\end{tikzpicture}
\end{document}
